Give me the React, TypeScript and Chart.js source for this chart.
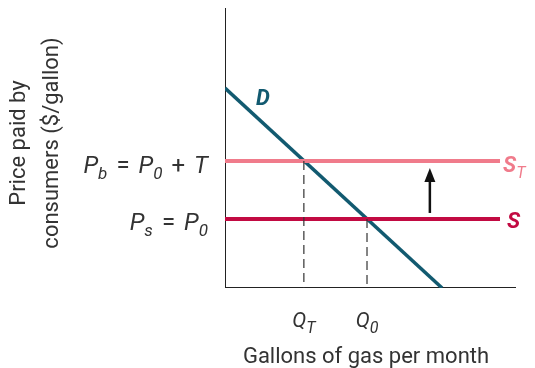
import React, { useEffect, useRef } from 'react';
import { Chart, registerables } from 'chart.js';
Chart.register(...registerables);

// Demand curve D
const demandX = [0, 74.6];
const demandY = [71.4, 0];
// Supply with tax S_T and supply S
const supplyTaxX = [0, 94.5];
const supplyTaxY = [45.4, 45.4];
const supplyX = [0, 94.5];
const supplyY = [24.6, 24.6];
// Quantities
const qT = 27.1;
const q0 = 48.8;
// Arrow (shift of supply)
const arrowX = 70.4;
const arrowFrom = 26.8;
const arrowTo = 42.9;
// Axis extents
const axisMax = 100;

const TEAL = '#125a70';
const PINK = '#f07b8b';
const CRIMSON = '#c20a42';
const AXIS = '#222222';
const TEXT = '#333333';
const NARROW = 'Roboto, "Liberation Sans", sans-serif';
const SANS = 'Roboto, "Liberation Sans", sans-serif';

type Part = { t: string; sub?: boolean; italic?: boolean; bold?: boolean; pad?: number };

function drawRich(
  ctx: CanvasRenderingContext2D,
  parts: Part[],
  x: number,
  y: number,
  align: 'left' | 'right' | 'center',
  size: number,
  subSize: number,
  subOff: number,
  color: string,
  family: string
) {
  const fontOf = (p: Part) =>
    `${p.italic ? 'italic ' : ''}${p.bold ? 'bold ' : ''}${p.sub ? subSize : size}px ${family}`;
  let total = 0;
  const widths = parts.map((p) => {
    ctx.font = fontOf(p);
    const w = ctx.measureText(p.t).width + 2 * (p.pad || 0);
    total += w;
    return w;
  });
  let cx = align === 'left' ? x : align === 'right' ? x - total : x - total / 2;
  ctx.fillStyle = color;
  ctx.textAlign = 'left';
  ctx.textBaseline = 'alphabetic';
  parts.forEach((p, i) => {
    ctx.font = fontOf(p);
    ctx.fillText(p.t, cx + (p.pad || 0), y + (p.sub ? subOff : 0));
    cx += widths[i];
  });
}

const labelsPlugin = {
  id: 'labelsPlugin',
  afterDraw(chart: any) {
    const ctx: CanvasRenderingContext2D = chart.ctx;
    const xs = chart.scales.x;
    const ys = chart.scales.y;
    const px = (v: number) => xs.getPixelForValue(v);
    const py = (v: number) => ys.getPixelForValue(v);
    ctx.save();

    // arrow
    const ax = px(arrowX);
    const yFrom = py(arrowFrom);
    const yTo = py(arrowTo);
    ctx.strokeStyle = '#111';
    ctx.fillStyle = '#111';
    ctx.lineWidth = 2.5;
    ctx.beginPath();
    ctx.moveTo(ax, yFrom);
    ctx.lineTo(ax, yTo + 10);
    ctx.stroke();
    ctx.beginPath();
    ctx.moveTo(ax, yTo);
    ctx.lineTo(ax - 5.5, yTo + 14);
    ctx.lineTo(ax + 5.5, yTo + 14);
    ctx.closePath();
    ctx.fill();

    // Y value labels
    drawRich(
      ctx,
      [
        { t: 'P', italic: true },
        { t: 'b', italic: true, sub: true },
        { t: '=', pad: 9 },
        { t: 'P', italic: true },
        { t: '0', italic: true, sub: true },
        { t: '+', pad: 9 },
        { t: 'T', italic: true },
      ],
      208,
      py(supplyTaxY[0]) + 12,
      'right',
      24,
      17,
      6,
      TEXT,
      NARROW
    );
    drawRich(
      ctx,
      [
        { t: 'P', italic: true },
        { t: 's', italic: true, sub: true },
        { t: '=', pad: 9 },
        { t: 'P', italic: true },
        { t: '0', italic: true, sub: true },
      ],
      208,
      py(supplyY[0]) + 11,
      'right',
      24,
      17,
      6,
      TEXT,
      NARROW
    );

    // Q labels
    const qy = py(0) + 39;
    drawRich(ctx, [{ t: 'Q', italic: true }, { t: 'T', italic: true, sub: true }], px(qT), qy, 'center', 21, 16, 6, TEXT, NARROW);
    drawRich(ctx, [{ t: 'Q', italic: true }, { t: '0', italic: true, sub: true }], px(q0), qy, 'center', 21, 16, 6, TEXT, NARROW);

    // curve labels
    drawRich(ctx, [{ t: 'D', italic: true, bold: true }], 256, py(demandY[0]) + 17, 'left', 22, 16, 6, TEAL, NARROW);
    drawRich(
      ctx,
      [{ t: 'S', italic: true, bold: true }, { t: 'T', italic: true, sub: true }],
      px(supplyTaxX[1]) + 3,
      py(supplyTaxY[1]) + 11,
      'left',
      22,
      16,
      6,
      PINK,
      NARROW
    );
    drawRich(ctx, [{ t: 'S', italic: true, bold: true }], px(supplyX[1]) + 7, py(supplyY[1]) + 9, 'left', 22, 16, 6, CRIMSON, NARROW);

    // axis titles
    ctx.fillStyle = TEXT;
    ctx.font = `22px ${SANS}`;
    ctx.textAlign = 'center';
    ctx.textBaseline = 'alphabetic';
    ctx.fillText('Gallons of gas per month', 366, 363);

    ctx.save();
    ctx.translate(25, 143);
    ctx.rotate(-Math.PI / 2);
    ctx.fillText('Price paid by', 0, 0);
    ctx.restore();
    ctx.save();
    ctx.translate(58, 143);
    ctx.rotate(-Math.PI / 2);
    ctx.fillText('consumers ($/gallon)', 0, 0);
    ctx.restore();

    ctx.restore();
  },
};

export default function App() {
  const ref = useRef<HTMLCanvasElement>(null);
  useEffect(() => {
    document.body.style.margin = '0';
    const pts = (xs: number[], ys: number[]) => xs.map((x, i) => ({ x, y: ys[i] }));
    const chart = new Chart(ref.current!, {
      type: 'scatter',
      data: {
        datasets: [
          { data: pts([qT, qT], [supplyTaxY[0], 0]), showLine: true, borderColor: '#333', borderWidth: 1.2, borderDash: [9, 5], pointRadius: 0 },
          { data: pts([q0, q0], [supplyY[0], 0]), showLine: true, borderColor: '#333', borderWidth: 1.2, borderDash: [9, 5], pointRadius: 0 },
          { data: pts(supplyTaxX, supplyTaxY), showLine: true, borderColor: PINK, borderWidth: 4, pointRadius: 0 },
          { data: pts(supplyX, supplyY), showLine: true, borderColor: CRIMSON, borderWidth: 4, pointRadius: 0 },
          { data: pts(demandX, demandY), showLine: true, borderColor: TEAL, borderWidth: 3.5, pointRadius: 0 },
          { data: pts([0, 0, axisMax], [axisMax, 0, 0]), showLine: true, borderColor: AXIS, borderWidth: 2, pointRadius: 0, borderJoinStyle: 'miter' },
        ] as any,
      },
      options: {
        animation: false,
        responsive: false,
        events: [],
        layout: { padding: { left: 225, right: 19, top: 8, bottom: 80 } },
        plugins: { legend: { display: false }, tooltip: { enabled: false } },
        scales: {
          x: { type: 'linear', min: 0, max: axisMax, display: false },
          y: { type: 'linear', min: 0, max: axisMax, display: false },
        },
      },
      plugins: [labelsPlugin],
    });
    return () => chart.destroy();
  }, []);
  return <canvas ref={ref} width={535} height={368} style={{ display: 'block', width: 535, height: 368 }} />;
}
